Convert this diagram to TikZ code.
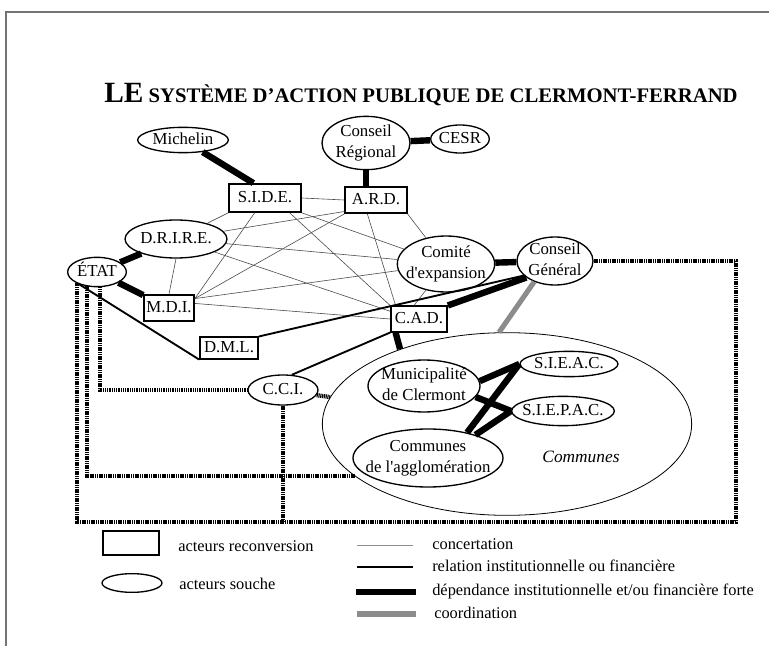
\documentclass[tikz,border=0pt]{standalone}
\usepackage{graphicx}
\usepackage{fontspec}
\setmainfont{Liberation Serif}
\newfontfamily\plainserif{Liberation Serif}
\usetikzlibrary{shapes.geometric}
\newcommand\ztext[1]{\vbox to 0pt{\vss\hbox to 0pt{\hss\begin{tabular}{@{}c@{}}#1\end{tabular}\hss}\vss}}
\begin{document}
\begin{tikzpicture}[x=0.75pt,y=-0.75pt,
  nodefont/.style={font=\plainserif\fontsize{12.6}{15.2}\selectfont},
  legfont/.style={font=\plainserif\fontsize{12.3}{15}\selectfont},
  act/.style={draw, ellipse, line width=1pt, inner sep=0pt, nodefont},
  rec/.style={draw, rectangle, line width=1.3pt, inner sep=0pt, nodefont},
  conc/.style={line width=0.45pt, black!70},
  rel/.style={line width=1.4pt},
  forte/.style={line width=4.8pt},
  coordl/.style={line width=3.8pt, black!45},
  dotline/.style={line width=3.2pt, dash pattern=on 0.85pt off 0.5pt, black},
  frame/.style={line width=1.1pt, black!55},
  legtxt/.style={anchor=west, inner sep=0pt, legfont}]
\useasboundingbox (0,0) rectangle (769,646);
\fill[white] (0,0) rectangle (769,646);
\draw[frame] (6,646) -- (6,12) -- (769,12);

% title
\node[anchor=base, inner sep=0pt] (title) at (421,103) {\resizebox{475pt}{!}{\bfseries\fontsize{22}{22}\selectfont LE\fontsize{15.5}{16}\selectfont{} SYSTÈME D’ACTION PUBLIQUE DE CLERMONT-FERRAND}};

% nodes
\node[act, minimum width=68pt, minimum height=19pt] (michelin) at (183,140) {\ztext{Michelin}};
\node[act, minimum width=66pt, minimum height=40pt] (cr) at (366,143) {\ztext{Conseil\\Régional}};
\node[act, minimum width=44pt, minimum height=21pt] (cesr) at (460,139) {\ztext{CESR}};
\node[rec, minimum width=54pt, minimum height=21pt] (side) at (265,198) {\ztext{S.I.D.E.}};
\node[rec, minimum width=46pt, minimum height=19.5pt] (ard) at (376,200) {\ztext{A.R.D.}};
\node[act, minimum width=76.5pt, minimum height=28.5pt] (drire) at (176,239) {\ztext{D.R.I.R.E.}};
\node[act, minimum width=44pt, minimum height=22pt] (etat) at (97,272) {\ztext{ÉTAT}};
\node[rec, minimum width=37.5pt, minimum height=19.5pt] (mdi) at (169,308) {\ztext{M.D.I.}};
\node[rec, minimum width=43.5pt, minimum height=16pt] (dml) at (229,348) {\ztext{D.M.L.}};
\node[act, minimum width=73pt, minimum height=42pt] (comite) at (446,264) {\ztext{Comité\\d'expansion}};
\node[act, minimum width=57pt, minimum height=36pt] (cg) at (555,261) {\ztext{Conseil\\Général}};
\node[rec, minimum width=42pt, minimum height=19pt] (cad) at (419,319) {\ztext{C.A.D.}};
\node[act, minimum width=52.5pt, minimum height=22.5pt] (cci) at (283,390) {\ztext{C.C.I.}};
\node[act, line width=0.6pt, minimum width=277pt, minimum height=137pt] (communes) at (507,424) {};
\node[inner sep=0pt, font=\plainserif\fontsize{13}{15}\selectfont\itshape] (comlabel) at (581,457) {Communes};
\node[act, minimum width=84pt, minimum height=39pt] (muni) at (424,386) {\ztext{Municipalité\\de Clermont}};
\node[act, minimum width=73.5pt, minimum height=19pt] (sieac) at (569,364) {\ztext{S.I.E.A.C.}};
\node[act, minimum width=77pt, minimum height=22pt] (siepac) at (563,411) {\ztext{S.I.E.P.A.C.}};
\node[act, minimum width=112.5pt, minimum height=43.5pt] (commagg) at (428,458) {\ztext{Communes\\de l'agglomération}};

% concertation
\draw[conc] (side.east) -- (ard.west);
\draw[conc] (side.south west) -- (drire);
\draw[conc] (side.235) -- (mdi.20);
\draw[conc] (side.south east) -- (comite);
\draw[conc] (side.-31) -- (cad.north west);
\draw[conc] (ard.-160) -- (drire);
\draw[conc] (ard.south west) -- (mdi.20);
\draw[conc] (ard.south east) -- (comite);
\draw[conc] (ard.-122) -- (cad.150);
\draw[conc] (drire.south) -- (mdi.north);
\draw[conc] (drire) -- (comite);
\draw[conc] (drire) -- (cad.165);
\draw[conc] (mdi.20) -- (comite);
\draw[conc] (mdi.10) -- (cad.west);
\draw[conc] (comite) -- (cad.110);

% relation
\draw[rel] (etat.-145) -- (dml.south west);
\draw[rel] (dml.north east) -- (cg.205);
\draw[rel] (cad.south west) -- (cci.60);

% forte
\draw[forte] (michelin) -- (side.128);
\draw[forte] (cr.south) -- (cr.south |- ard.north);
\draw[forte] (cr) -- (cesr);
\draw[forte] (etat) -- (drire);
\draw[forte] (etat) -- (mdi);
\draw[forte] (comite) -- (cg);
\draw[forte] (cad.north east) -- (cg.210);
\draw[forte] (cad.210) -- (communes.145);
\draw[forte] (muni.5) -- (sieac.west);
\draw[forte] (muni.-12) -- (siepac.west);
\draw[forte] (commagg.33) -- (sieac.west);
\draw[forte] (commagg.26) -- (siepac.west);

% coordination
\draw[coordl] (cg.225) -- (communes.95);

% dotted links
\coordinate (br) at (736,522);
\draw[dotline] (cg.east) -| (br) -| (etat.-150);
\draw[dotline] (etat.-125) |- (communes.-161);
\draw[dotline] (etat.-80) |- (cci.west);
\draw[dotline] (cci.south) -- (cci.south |- br);
\draw[dotline] (cci) -- (communes);

% legend
\node[rec, line width=1.2pt, minimum width=42pt, minimum height=18pt] (legrect) at (131,543) {};
\node[legtxt] (legrecttxt) at (178,546) {acteurs reconversion};
\node[act, minimum width=45pt, minimum height=14pt] (legell) at (132,583) {};
\node[legtxt] (legelltxt) at (179,584) {acteurs souche};
\coordinate (l1a) at (357,545); \coordinate (l1b) at (413,545);
\coordinate (l2a) at (357,567); \coordinate (l2b) at (413,567);
\coordinate (l3a) at (356,592); \coordinate (l3b) at (416,592);
\coordinate (l4a) at (357,614); \coordinate (l4b) at (416,614);
\draw[conc, black!45] (l1a) -- (l1b);
\draw[rel] (l2a) -- (l2b);
\draw[forte] (l3a) -- (l3b);
\draw[coordl] (l4a) -- (l4b);
\node[legtxt] (t1) at (432,544) {concertation};
\node[legtxt] (t2) at (432,566) {relation institutionnelle ou financière};
\node[legtxt] (t3) at (432,591) {dépendance institutionnelle et/ou financière forte};
\node[legtxt] (t4) at (434,613) {coordination};
\end{tikzpicture}
\end{document}
